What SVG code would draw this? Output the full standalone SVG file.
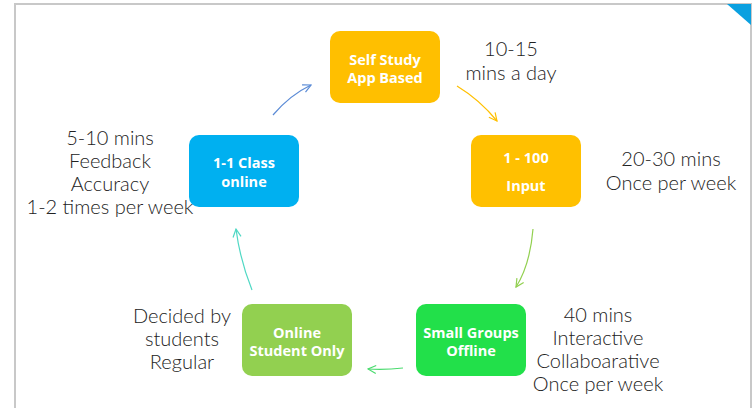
<svg xmlns="http://www.w3.org/2000/svg" width="754" height="408" viewBox="0 0 754 408">
<style>
.node rect{stroke:none}
.nt{font-family:"Open Sans","Liberation Sans",sans-serif;font-weight:700;font-size:14.5px;fill:#fff;text-anchor:middle}
.ann{font-family:Lato,"Open Sans","Liberation Sans",sans-serif;font-weight:300;font-size:20px;fill:#222;text-anchor:middle}
.c{fill:none;stroke-width:1.2}
</style>
<defs>
<marker id="mBlue" viewBox="0 0 10 10" refX="9" refY="5" markerWidth="10" markerHeight="10" markerUnits="userSpaceOnUse" orient="auto"><path d="M1,1 L9,5 L1,9" fill="none" stroke="#5B8BD6" stroke-width="1.2"/></marker>
<marker id="mYel" viewBox="0 0 10 10" refX="9" refY="5" markerWidth="10" markerHeight="10" markerUnits="userSpaceOnUse" orient="auto"><path d="M1,1 L9,5 L1,9" fill="none" stroke="#FFC000" stroke-width="1.2"/></marker>
<marker id="mLg" viewBox="0 0 10 10" refX="9" refY="5" markerWidth="10" markerHeight="10" markerUnits="userSpaceOnUse" orient="auto"><path d="M1,1 L9,5 L1,9" fill="none" stroke="#92D050" stroke-width="1.2"/></marker>
<marker id="mG" viewBox="0 0 10 10" refX="9" refY="5" markerWidth="10" markerHeight="10" markerUnits="userSpaceOnUse" orient="auto"><path d="M1,1 L9,5 L1,9" fill="none" stroke="#4ADB6E" stroke-width="1.2"/></marker>
<marker id="mT" viewBox="0 0 10 10" refX="9" refY="5" markerWidth="10" markerHeight="10" markerUnits="userSpaceOnUse" orient="auto"><path d="M1,1 L9,5 L1,9" fill="none" stroke="#4FD8C4" stroke-width="1.2"/></marker>
</defs>
<rect x="0" y="0" width="754" height="408" fill="#fff"/>
<rect x="15" y="4" width="736" height="420" fill="none" stroke="#c8c8c8" stroke-width="2"/>
<polygon points="727,4 751,4 751,25" fill="#0AA0E0"/>

<g id="connectors">
<path class="c" d="M273,115 Q290,95 311,85" stroke="#5B8BD6" marker-end="url(#mBlue)"/>
<path class="c" d="M457,86 Q480,100 497,121" stroke="#FFC000" marker-end="url(#mYel)"/>
<path class="c" d="M533,229 Q530,265 516,287" stroke="#92D050" marker-end="url(#mLg)"/>
<path class="c" d="M403,368 Q385,370 368,369" stroke="#4ADB6E" marker-end="url(#mG)"/>
<path class="c" d="M252,290 Q240,260 236,229" stroke="#4FD8C4" marker-end="url(#mT)"/>
</g>

<g id="self-study" class="node">
<rect x="330" y="31" width="110" height="72" rx="10" fill="#FFBF00"/>
<text class="nt" x="385" y="65">Self Study</text>
<text class="nt" x="385" y="83">App Based</text>
</g>
<g id="input" class="node">
<rect x="471" y="135" width="110" height="72" rx="10" fill="#FFC000"/>
<text class="nt" x="526" y="163">1 - 100</text>
<text class="nt" x="526" y="191">Input</text>
</g>
<g id="class-online" class="node">
<rect x="189" y="135" width="110" height="72" rx="10" fill="#00B0F0"/>
<text class="nt" x="244" y="168">1-1 Class</text>
<text class="nt" x="244" y="187">online</text>
</g>
<g id="small-groups" class="node">
<rect x="416" y="304" width="110" height="72" rx="10" fill="#22E04A"/>
<text class="nt" x="471" y="338">Small Groups</text>
<text class="nt" x="471" y="356">Offline</text>
</g>
<g id="online-student" class="node">
<rect x="242" y="304" width="110" height="72" rx="10" fill="#92D050"/>
<text class="nt" x="297" y="338">Online</text>
<text class="nt" x="297" y="356">Student Only</text>
</g>

<g id="annotations">
<text class="ann" x="511" y="56">10-15</text>
<text class="ann" x="511" y="80">mins a day</text>
<text class="ann" x="671" y="166">20-30 mins</text>
<text class="ann" x="671" y="190">Once per week</text>
<text class="ann" x="110" y="145">5-10 mins</text>
<text class="ann" x="110" y="168">Feedback</text>
<text class="ann" x="110" y="191">Accuracy</text>
<text class="ann" x="110" y="214">1-2 times per week</text>
<text class="ann" x="182" y="323">Decided by</text>
<text class="ann" x="182" y="346">students</text>
<text class="ann" x="182" y="369">Regular</text>
<text class="ann" x="598" y="322">40 mins</text>
<text class="ann" x="598" y="345">Interactive</text>
<text class="ann" x="598" y="368">Collaboarative</text>
<text class="ann" x="598" y="391">Once per week</text>
</g>
</svg>
